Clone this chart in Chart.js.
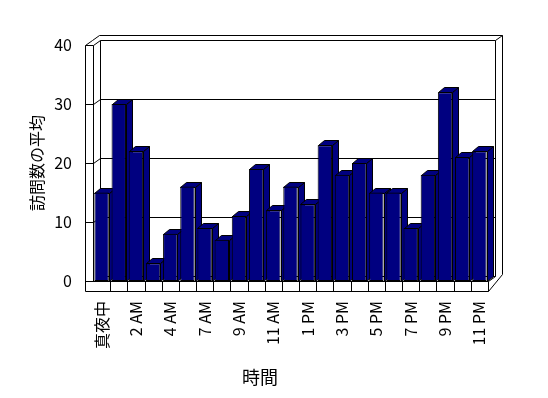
<!DOCTYPE html>
<html>
<head>
<meta charset="utf-8">
<script src="https://cdn.jsdelivr.net/npm/chart.js@4/dist/chart.umd.min.js"></script>
<style>
  body { margin: 0; background: #fff; }
</style>
</head>
<body>
<canvas id="chart" width="548" height="398"></canvas>
<script>
// 時間帯（5 AM はデータなし）
const hours = ['真夜中', '1 AM', '2 AM', '3 AM', '4 AM', '6 AM', '7 AM', '8 AM', '9 AM', '10 AM', '11 AM', '正午',
    '1 PM', '2 PM', '3 PM', '4 PM', '5 PM', '6 PM', '7 PM', '8 PM', '9 PM', '10 PM', '11 PM'];
// 訪問数の平均
const visits = [15, 30, 22, 3, 8, 16, 9, 7, 11, 19, 12, 16, 13, 23, 18, 20, 15, 15, 9, 18, 32, 21, 22];
const yTicks = [0, 10, 20, 30, 40];

const NAVY = '#000080';
const DX = 7, DY = -5;     // 奥の壁までのずれ
const BDX = 6, BDY = -5;   // 棒の奥行き
const WALL = 8, FLOOR = 10;

function px(v) { return Math.round(v) + 0.5; }

function line(ctx, pts) {
    ctx.beginPath();
    ctx.moveTo(px(pts[0][0]), px(pts[0][1]));
    for (let i = 1; i < pts.length; i++) ctx.lineTo(px(pts[i][0]), px(pts[i][1]));
    ctx.stroke();
}

function poly(ctx, pts) {
    ctx.beginPath();
    ctx.moveTo(px(pts[0][0]), px(pts[0][1]));
    for (let i = 1; i < pts.length; i++) ctx.lineTo(px(pts[i][0]), px(pts[i][1]));
    ctx.closePath();
    ctx.fill();
    ctx.stroke();
}

// 3D風の枠と棒の側面
const frame3d = {
    id: 'frame3d',
    beforeDatasetsDraw(chart) {
        const ctx = chart.ctx;
        const a = chart.chartArea;
        const x = chart.scales.x, y = chart.scales.y;
        const L = a.left, R = a.right, T = a.top, B = a.bottom;
        ctx.save();
        ctx.strokeStyle = '#000';
        ctx.lineWidth = 1;

        // 外枠
        line(ctx, [[L - WALL, B + FLOOR], [L - WALL, T], [L - WALL + DX, T + DY], [L - WALL + 2 * DX, T + 2 * DY],
            [R + 2 * DX, T + 2 * DY], [R + 2 * DX, B + 2 * DY + 3], [R, B + FLOOR]]);
        // 左の壁
        line(ctx, [[L - WALL, T], [L, T], [L + DX, T + DY]]);
        line(ctx, [[L, T], [L, B]]);
        // 奥の壁
        line(ctx, [[L + DX, B + DY], [L + DX, T + DY], [R + DX, T + DY], [R + DX, B + DY]]);
        line(ctx, [[R + DX, T + DY], [R + 2 * DX, T + 2 * DY]]);
        // 目盛線
        yTicks.forEach(v => {
            if (v === 0 || v === 40) return;
            const fy = y.getPixelForValue(v);
            line(ctx, [[L - WALL, fy], [L, fy], [L + DX, fy + DY], [R + DX, fy + DY]]);
        });
        // 床
        line(ctx, [[L + DX, B + DY], [R + DX, B + DY], [R, B]]);
        line(ctx, [[L - WALL, B + FLOOR], [R, B + FLOOR], [R, B], [L - WALL, B]]);
        for (let i = 1; i < hours.length; i++) {
            const bx = (x.getPixelForValue(i - 1) + x.getPixelForValue(i)) / 2;
            line(ctx, [[bx, B], [bx, B + FLOOR]]);
        }

        // 棒の上面と側面
        ctx.fillStyle = NAVY;
        chart.getDatasetMeta(0).data.forEach(bar => {
            const p = bar.getProps(['x', 'y', 'width', 'base'], true);
            const l = p.x - p.width / 2, r = p.x + p.width / 2;
            poly(ctx, [[r, p.y], [r + BDX, p.y + BDY], [r + BDX, p.base + BDY], [r, p.base]]);
            poly(ctx, [[l, p.y], [l + BDX, p.y + BDY], [r + BDX, p.y + BDY], [r, p.y]]);
        });
        ctx.restore();
    },
    afterDraw(chart) {
        const ctx = chart.ctx;
        ctx.save();
        ctx.fillStyle = '#000';
        ctx.font = "18px 'Noto Sans CJK JP'";
        ctx.textAlign = 'center';
        ctx.textBaseline = 'middle';
        ctx.fillText('時間', 260, 377);
        ctx.restore();
    }
};

Chart.defaults.font.family = "'Noto Sans CJK JP', sans-serif";
Chart.defaults.color = '#000';

new Chart(document.getElementById('chart'), {
    type: 'bar',
    data: {
        labels: hours,
        datasets: [{
            label: '訪問数の平均',
            data: visits,
            backgroundColor: NAVY,
            borderColor: '#000',
            borderWidth: 1,
            borderSkipped: false,
            barPercentage: 0.84,
            categoryPercentage: 1
        }]
    },
    options: {
        responsive: false,
        animation: false,
        devicePixelRatio: 1,
        layout: { padding: { left: 0, top: 45, right: 60, bottom: 0 } },
        plugins: { legend: { display: false }, tooltip: { enabled: false } },
        scales: {
            x: {
                grid: { display: false, drawTicks: false },
                border: { display: false },
                ticks: {
                    autoSkip: false,
                    minRotation: 90,
                    maxRotation: 90,
                    padding: 20,
                    font: { size: 16 },
                    callback: (v, i) => i % 2 === 0 ? hours[i] : ''
                },
                afterFit: s => { s.height = 117; }
            },
            y: {
                min: 0,
                max: 40,
                grid: { display: false, drawTicks: false },
                border: { display: false },
                ticks: { stepSize: 10, padding: 21, font: { size: 16 } },
                title: { display: true, text: '訪問数の平均', font: { size: 16 }, padding: { top: 27 } },
                afterFit: s => { s.width = 93; }
            }
        }
    },
    plugins: [frame3d]
});
</script>
</body>
</html>
